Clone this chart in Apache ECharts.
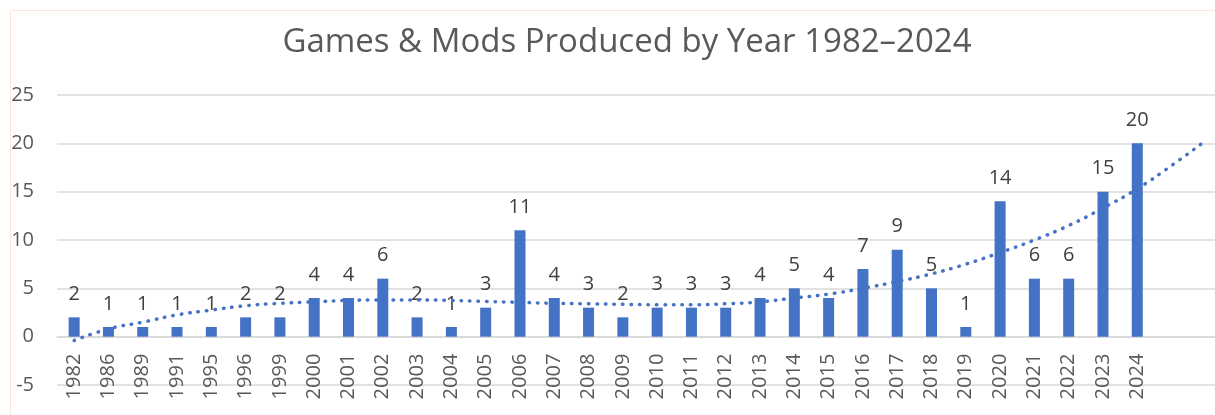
<!DOCTYPE html>
<html>
  <head>
    <meta charset="utf-8" />
    <title>Games & Mods Produced by Year</title>
    <script src="https://cdn.jsdelivr.net/npm/echarts@6/dist/echarts.min.js"></script>
    <style type="text/css">
      * {
        margin: 0px;
        padding: 0px;
      }
      body {
        background-color: #ffffff;
      }
    </style>
  </head>
  <body>
    <div id="main" style="width: 1215px; height: 415px"></div>
  </body>
</html>
<script>
  // years that have releases, then two empty slots for the trendline forecast
  const years = ['1982', '1986', '1989', '1991', '1995', '1996', '1999', '2000', '2001', '2002',
    '2003', '2004', '2005', '2006', '2007', '2008', '2009', '2010', '2011', '2012', '2013',
    '2014', '2015', '2016', '2017', '2018', '2019', '2020', '2021', '2022', '2023', '2024'];
  const forecastSlots = ['', ''];
  const counts = [2, 1, 1, 1, 1, 2, 2, 4, 4, 6, 2, 1, 3, 11, 4, 3, 2, 3, 3, 3, 4,
    5, 4, 7, 9, 5, 1, 14, 6, 6, 15, 20];
  // dotted trendline (incl. 2 periods forward)
  const trend = [-0.4, 0.8, 1.5, 2.25, 2.75, 3.2, 3.45, 3.6, 3.75, 3.8, 3.8, 3.75, 3.65, 3.55,
    3.45, 3.4, 3.35, 3.3, 3.3, 3.4, 3.6, 4.0, 4.4, 5.0, 5.7, 6.5, 7.5, 8.7, 10.0, 11.5, 13.3,
    15.3, 17.7, 20.3];
  const yTicks = { min: -5, max: 25, step: 5 };

  const FONT = "'Open Sans', sans-serif";
  const BLUE = '#4472C4';

  // plot box
  const gridTop = 95, gridHeight = 290;
  // lift the category axis from the bottom of the grid up to the zero line
  const zeroOffset = -gridHeight * (0 - yTicks.min) / (yTicks.max - yTicks.min);

  let myChart = echarts.init(document.getElementById('main'));

  let option = {
    backgroundColor: '#ffffff',
    animation: false,
    title: {
      text: 'Games & Mods Produced by Year 1982\u20132024',
      left: 622,
      top: 21,
      textAlign: 'center',
      textStyle: {
        fontFamily: FONT,
        fontSize: 33,
        fontWeight: 'normal',
        color: '#595959'
      }
    },
    graphic: [
      {
        type: 'rect',
        z: -10,
        shape: { x: 10.5, y: 10.5, width: 1300, height: 600 },
        style: { fill: null, stroke: '#fbe4d8', lineWidth: 1 }
      }
    ],
    grid: {
      left: 57,
      top: gridTop,
      width: 1166,
      height: gridHeight,
      containLabel: false,
      outerBoundsMode: 'none'
    },
    xAxis: {
      type: 'category',
      data: years.concat(forecastSlots),
      boundaryGap: true,
      offset: zeroOffset,
      axisLine: { onZero: false, lineStyle: { color: '#d9d9d9', width: 1.5 } },
      axisTick: { show: false },
      axisLabel: {
        interval: 0,
        rotate: 90,
        margin: 17,
        fontFamily: FONT,
        fontSize: 20,
        color: '#595959'
      }
    },
    yAxis: {
      type: 'value',
      min: yTicks.min,
      max: yTicks.max,
      interval: yTicks.step,
      axisLine: { show: false },
      axisTick: { show: false },
      splitLine: { lineStyle: { color: '#d9d9d9', width: 1.5 } },
      axisLabel: {
        margin: 23,
        fontFamily: FONT,
        fontSize: 20,
        color: '#595959'
      }
    },
    series: [
      {
        name: 'Games & Mods',
        type: 'bar',
        data: counts,
        barWidth: 11,
        itemStyle: { color: BLUE },
        label: {
          show: true,
          position: 'top',
          distance: 13,
          fontFamily: FONT,
          fontSize: 20,
          color: '#404040'
        }
      },
      {
        name: 'Trend',
        type: 'line',
        data: trend,
        smooth: true,
        symbol: 'none',
        z: 3,
        lineStyle: {
          color: BLUE,
          width: 3.5,
          type: [0.5, 8],
          cap: 'round'
        }
      }
    ]
  };

  myChart.setOption(option);
</script>
